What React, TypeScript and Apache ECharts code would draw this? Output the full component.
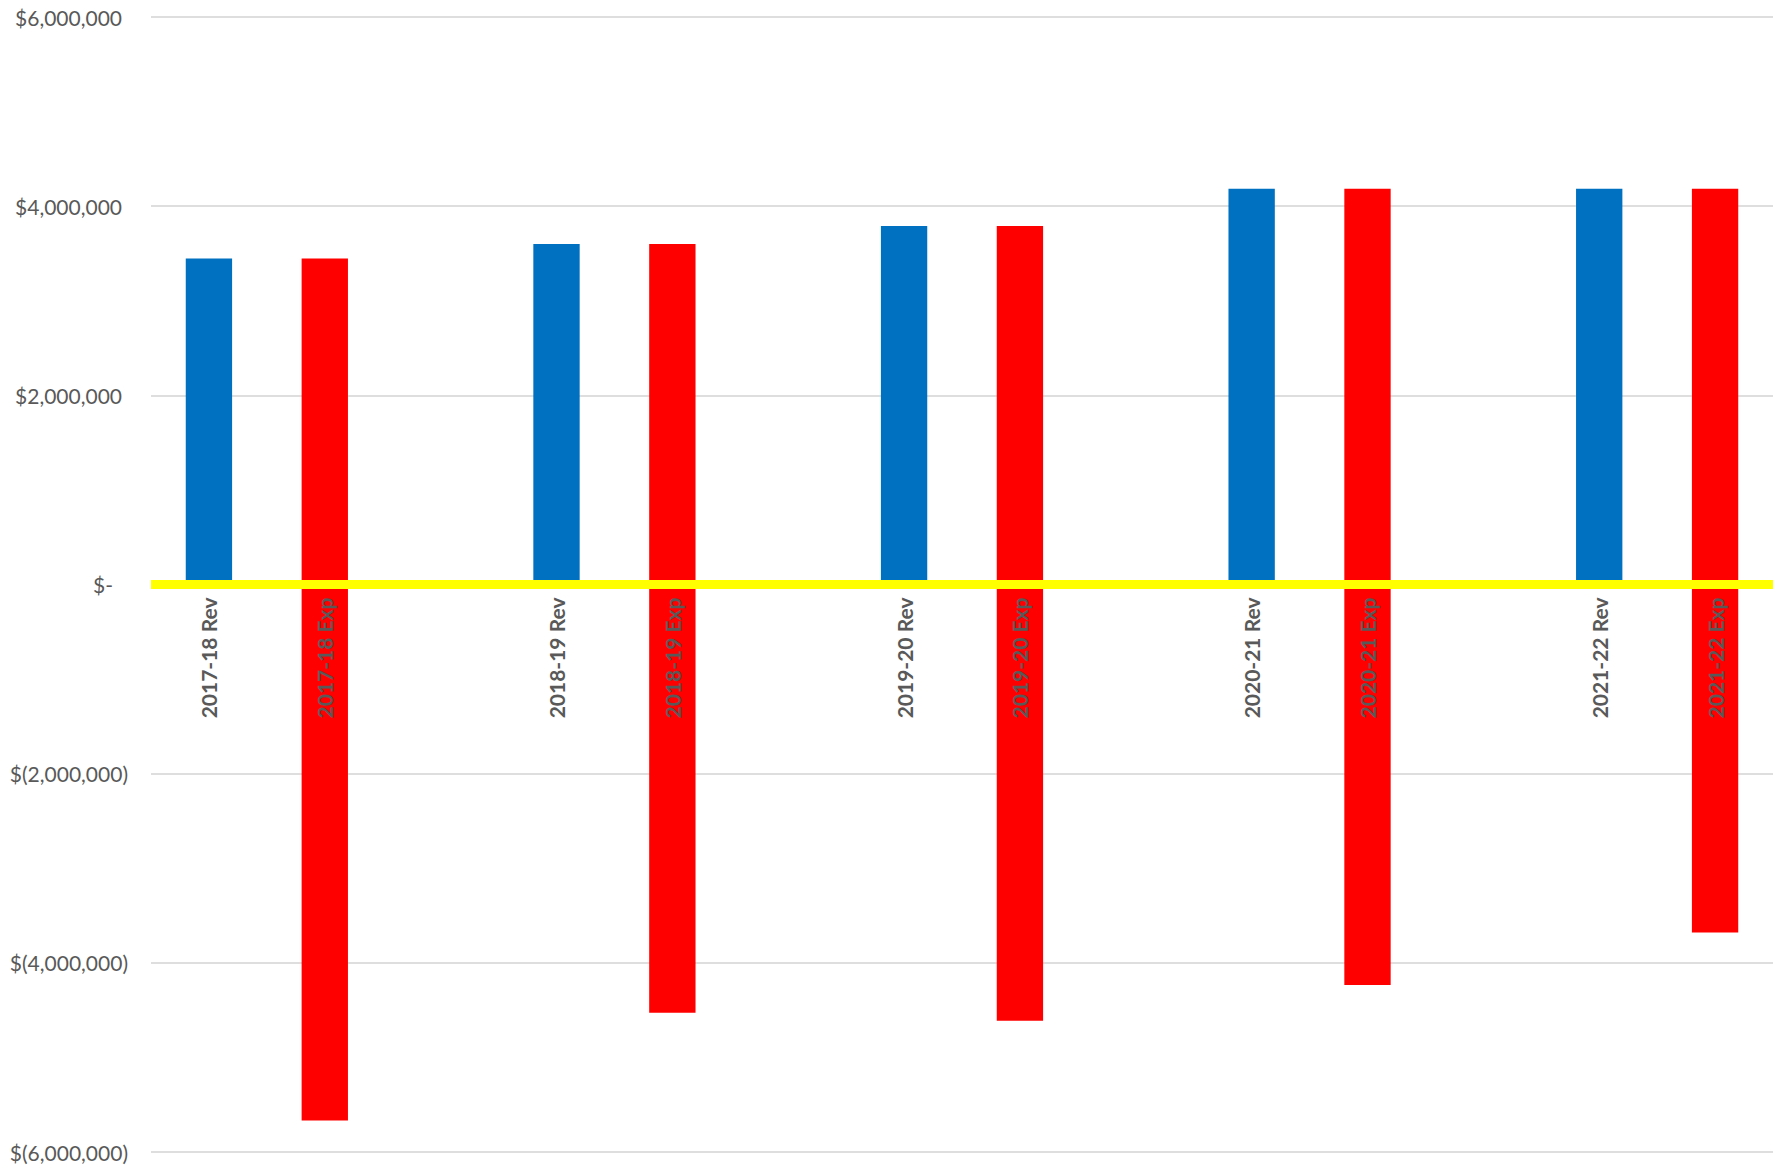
import React, { useEffect, useRef } from "react";
import * as echarts from "echarts";

const categories = [
  "2017-18 Rev", "2017-18 Exp", "",
  "2018-19 Rev", "2018-19 Exp", "",
  "2019-20 Rev", "2019-20 Exp", "",
  "2020-21 Rev", "2020-21 Exp", "",
  "2021-22 Rev", "2021-22 Exp",
];

// Revenue bars (blue)
const revenue = [3447000, null, null, 3600000, null, null, 3790000, null, null, 4184000, null, null, 4184000, null];
// Expense bars, upper part (red, above zero)
const expenseUpper = [null, 3447000, null, null, 3600000, null, null, 3790000, null, null, 4184000, null, null, 4184000];
// Expense bars, lower part (red, below zero)
const expenseLower = [null, -5666000, null, null, -4528000, null, null, -4612000, null, null, -4235000, null, null, -3680000];

const yTicks = { min: -6000000, max: 6000000, interval: 2000000 };

const fmt = (v: number) => Math.abs(v).toLocaleString("en-US");

const GRID_TOP = 17;
const GRID_BOTTOM = 14;
const HEIGHT = 1166;

export default function App() {
  const ref = useRef<HTMLDivElement>(null);
  useEffect(() => {
    document.body.style.margin = "0";
    const chart = echarts.init(ref.current!, null, { renderer: "svg" });
    const labelColor = "#595959";
    const plotH = HEIGHT - GRID_TOP - GRID_BOTTOM;
    const zeroFrac = (yTicks.max - 0) / (yTicks.max - yTicks.min);
    const axisOffset = -(plotH * (1 - zeroFrac));
    chart.setOption({
      animation: false,
      backgroundColor: "#ffffff",
      grid: {
        left: 151,
        right: 14,
        top: GRID_TOP,
        bottom: GRID_BOTTOM,
        containLabel: false,
        outerBoundsMode: "none",
      },
      xAxis: {
        type: "category",
        data: categories,
        z: 10,
        position: "bottom",
        offset: axisOffset,
        axisLine: { onZero: false, lineStyle: { color: "#FFFF00", width: 9, cap: "butt" } },
        axisTick: { show: false },
        splitLine: { show: false },
        axisLabel: {
          rotate: 90,
          interval: 0,
          margin: 13,
          color: labelColor,
          fontFamily: "Lato",
          fontWeight: "bold",
          fontSize: 21,
        },
      },
      yAxis: {
        type: "value",
        min: yTicks.min,
        max: yTicks.max,
        interval: yTicks.interval,
        axisLine: { show: false },
        axisTick: { show: false },
        splitLine: { lineStyle: { color: "#dedede", width: 2 } },
        axisLabel: {
          margin: 23,
          align: "right",
          formatter: (v: number) => {
            if (v > 0) return `{p|$${fmt(v)}}`;
            if (v === 0) return `{z|$-}`;
            return `{n|$(${fmt(v)})}`;
          },
          rich: {
            p: { color: labelColor, fontFamily: "Lato", fontSize: 21, padding: [0, 6, 0, 0] },
            z: { color: labelColor, fontFamily: "Lato", fontSize: 21, padding: [0, 15, 0, 0] },
            n: { color: labelColor, fontFamily: "Lato", fontSize: 21 },
          },
        },
      },
      series: [
        {
          name: "Revenue",
          type: "bar",
          stack: "all",
          data: revenue,
          barCategoryGap: "60%",
          itemStyle: { color: "#0070C0" },
        },
        {
          name: "Expense (upper)",
          type: "bar",
          stack: "all",
          data: expenseUpper,
          barCategoryGap: "60%",
          itemStyle: { color: "#FF0000" },
        },
        {
          name: "Expense (lower)",
          type: "bar",
          stack: "all",
          data: expenseLower,
          barCategoryGap: "60%",
          itemStyle: { color: "#FF0000" },
        },
      ],
    });
    return () => chart.dispose();
  }, []);
  return <div ref={ref} style={{ width: 1787, height: HEIGHT }} />;
}
